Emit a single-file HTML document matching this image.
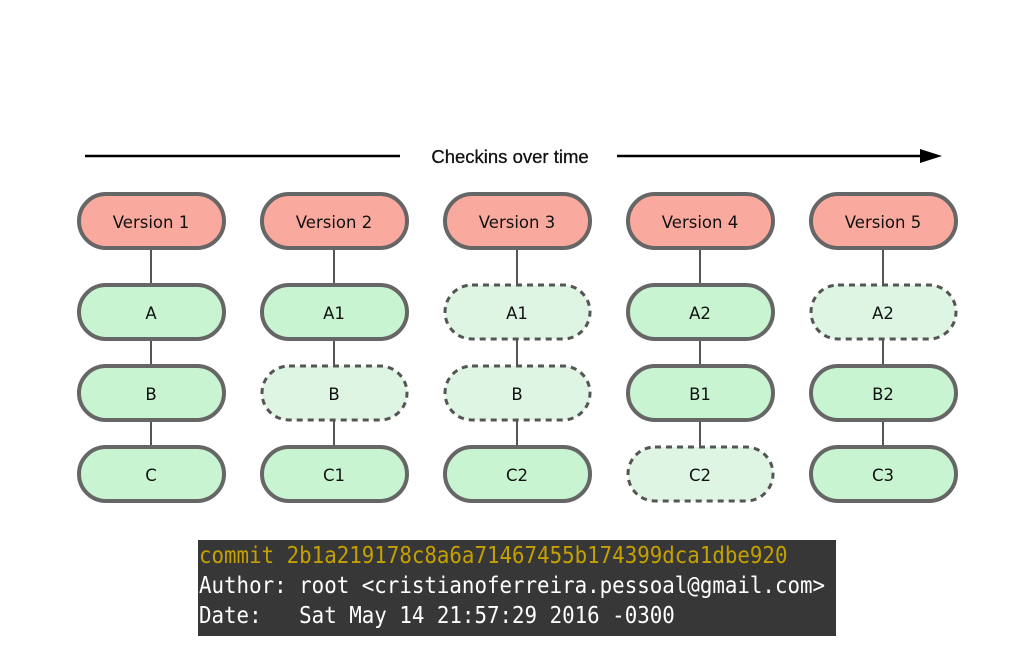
<!DOCTYPE html>
<html><head><style>
html,body{margin:0;padding:0;background:#fff;width:1024px;height:655px;overflow:hidden}
.t{position:absolute;left:198px;top:540px;width:638px;height:96px;background:#373737;font-family:"DejaVu Sans Mono","Liberation Mono",monospace;font-size:20.8px;line-height:30px;color:#fff;white-space:pre;padding-left:1px;box-sizing:border-box}
.t div{transform:scaleY(1.12);transform-origin:left center}
</style></head><body>
<svg width="1024" height="655" style="position:absolute;left:0;top:0" font-family="DejaVu Sans, Liberation Sans, sans-serif">
<line x1="85" y1="156" x2="400" y2="156" stroke="#000" stroke-width="2.5"/>
<line x1="617" y1="156" x2="928" y2="156" stroke="#000" stroke-width="2.5"/>
<polygon points="942,156 920,149 920,163" fill="#000"/>
<text x="510" y="163" font-size="18.5" text-anchor="middle" fill="#111" font-family="Liberation Sans, sans-serif" stroke="#111" stroke-width="0.3">Checkins over time</text>
<g stroke="#555" stroke-width="2">
<line x1="151" y1="249" x2="151" y2="446"/>
<line x1="334" y1="249" x2="334" y2="446"/>
<line x1="517" y1="249" x2="517" y2="446"/>
<line x1="700" y1="249" x2="700" y2="446"/>
<line x1="883" y1="249" x2="883" y2="446"/>
</g>
<g font-size="16.5" text-anchor="middle" fill="#111">
<g fill="#f9a99e" stroke="#666" stroke-width="4">
<rect x="79" y="194" width="145" height="54" rx="27"/>
<rect x="262" y="194" width="145" height="54" rx="27"/>
<rect x="445" y="194" width="145" height="54" rx="27"/>
<rect x="628" y="194" width="145" height="54" rx="27"/>
<rect x="811" y="194" width="145" height="54" rx="27"/>
</g>
<text x="151" y="228">Version 1</text><text x="334" y="228">Version 2</text><text x="517" y="228">Version 3</text><text x="700" y="228">Version 4</text><text x="883" y="228">Version 5</text>
<g fill="#c9f4d1" stroke="#666" stroke-width="4">
<rect x="79" y="285" width="145" height="54" rx="27"/>
<rect x="79" y="366" width="145" height="54" rx="27"/>
<rect x="79" y="447" width="145" height="54" rx="27"/>
<rect x="262" y="285" width="145" height="54" rx="27"/>
<rect x="262" y="447" width="145" height="54" rx="27"/>
<rect x="445" y="447" width="145" height="54" rx="27"/>
<rect x="628" y="285" width="145" height="54" rx="27"/>
<rect x="628" y="366" width="145" height="54" rx="27"/>
<rect x="811" y="366" width="145" height="54" rx="27"/>
<rect x="811" y="447" width="145" height="54" rx="27"/>
</g>
<g fill="#dff5e3" stroke="#555" stroke-width="3" stroke-dasharray="6,5">
<rect x="262" y="366" width="145" height="54" rx="27"/>
<rect x="445" y="285" width="145" height="54" rx="27"/>
<rect x="445" y="366" width="145" height="54" rx="27"/>
<rect x="628" y="447" width="145" height="54" rx="27"/>
<rect x="811" y="285" width="145" height="54" rx="27"/>
</g>
<text x="151" y="319">A</text><text x="151" y="400">B</text><text x="151" y="481">C</text>
<text x="334" y="319">A1</text><text x="334" y="400">B</text><text x="334" y="481">C1</text>
<text x="517" y="319">A1</text><text x="517" y="400">B</text><text x="517" y="481">C2</text>
<text x="700" y="319">A2</text><text x="700" y="400">B1</text><text x="700" y="481">C2</text>
<text x="883" y="319">A2</text><text x="883" y="400">B2</text><text x="883" y="481">C3</text>
</g>
</svg>
<div class="t"><div style="color:#c4a000">commit 2b1a219178c8a6a71467455b174399dca1dbe920</div><div>Author: root &lt;cristianoferreira.pessoal@gmail.com&gt;</div><div>Date:   Sat May 14 21:57:29 2016 -0300</div></div>
</body></html>
